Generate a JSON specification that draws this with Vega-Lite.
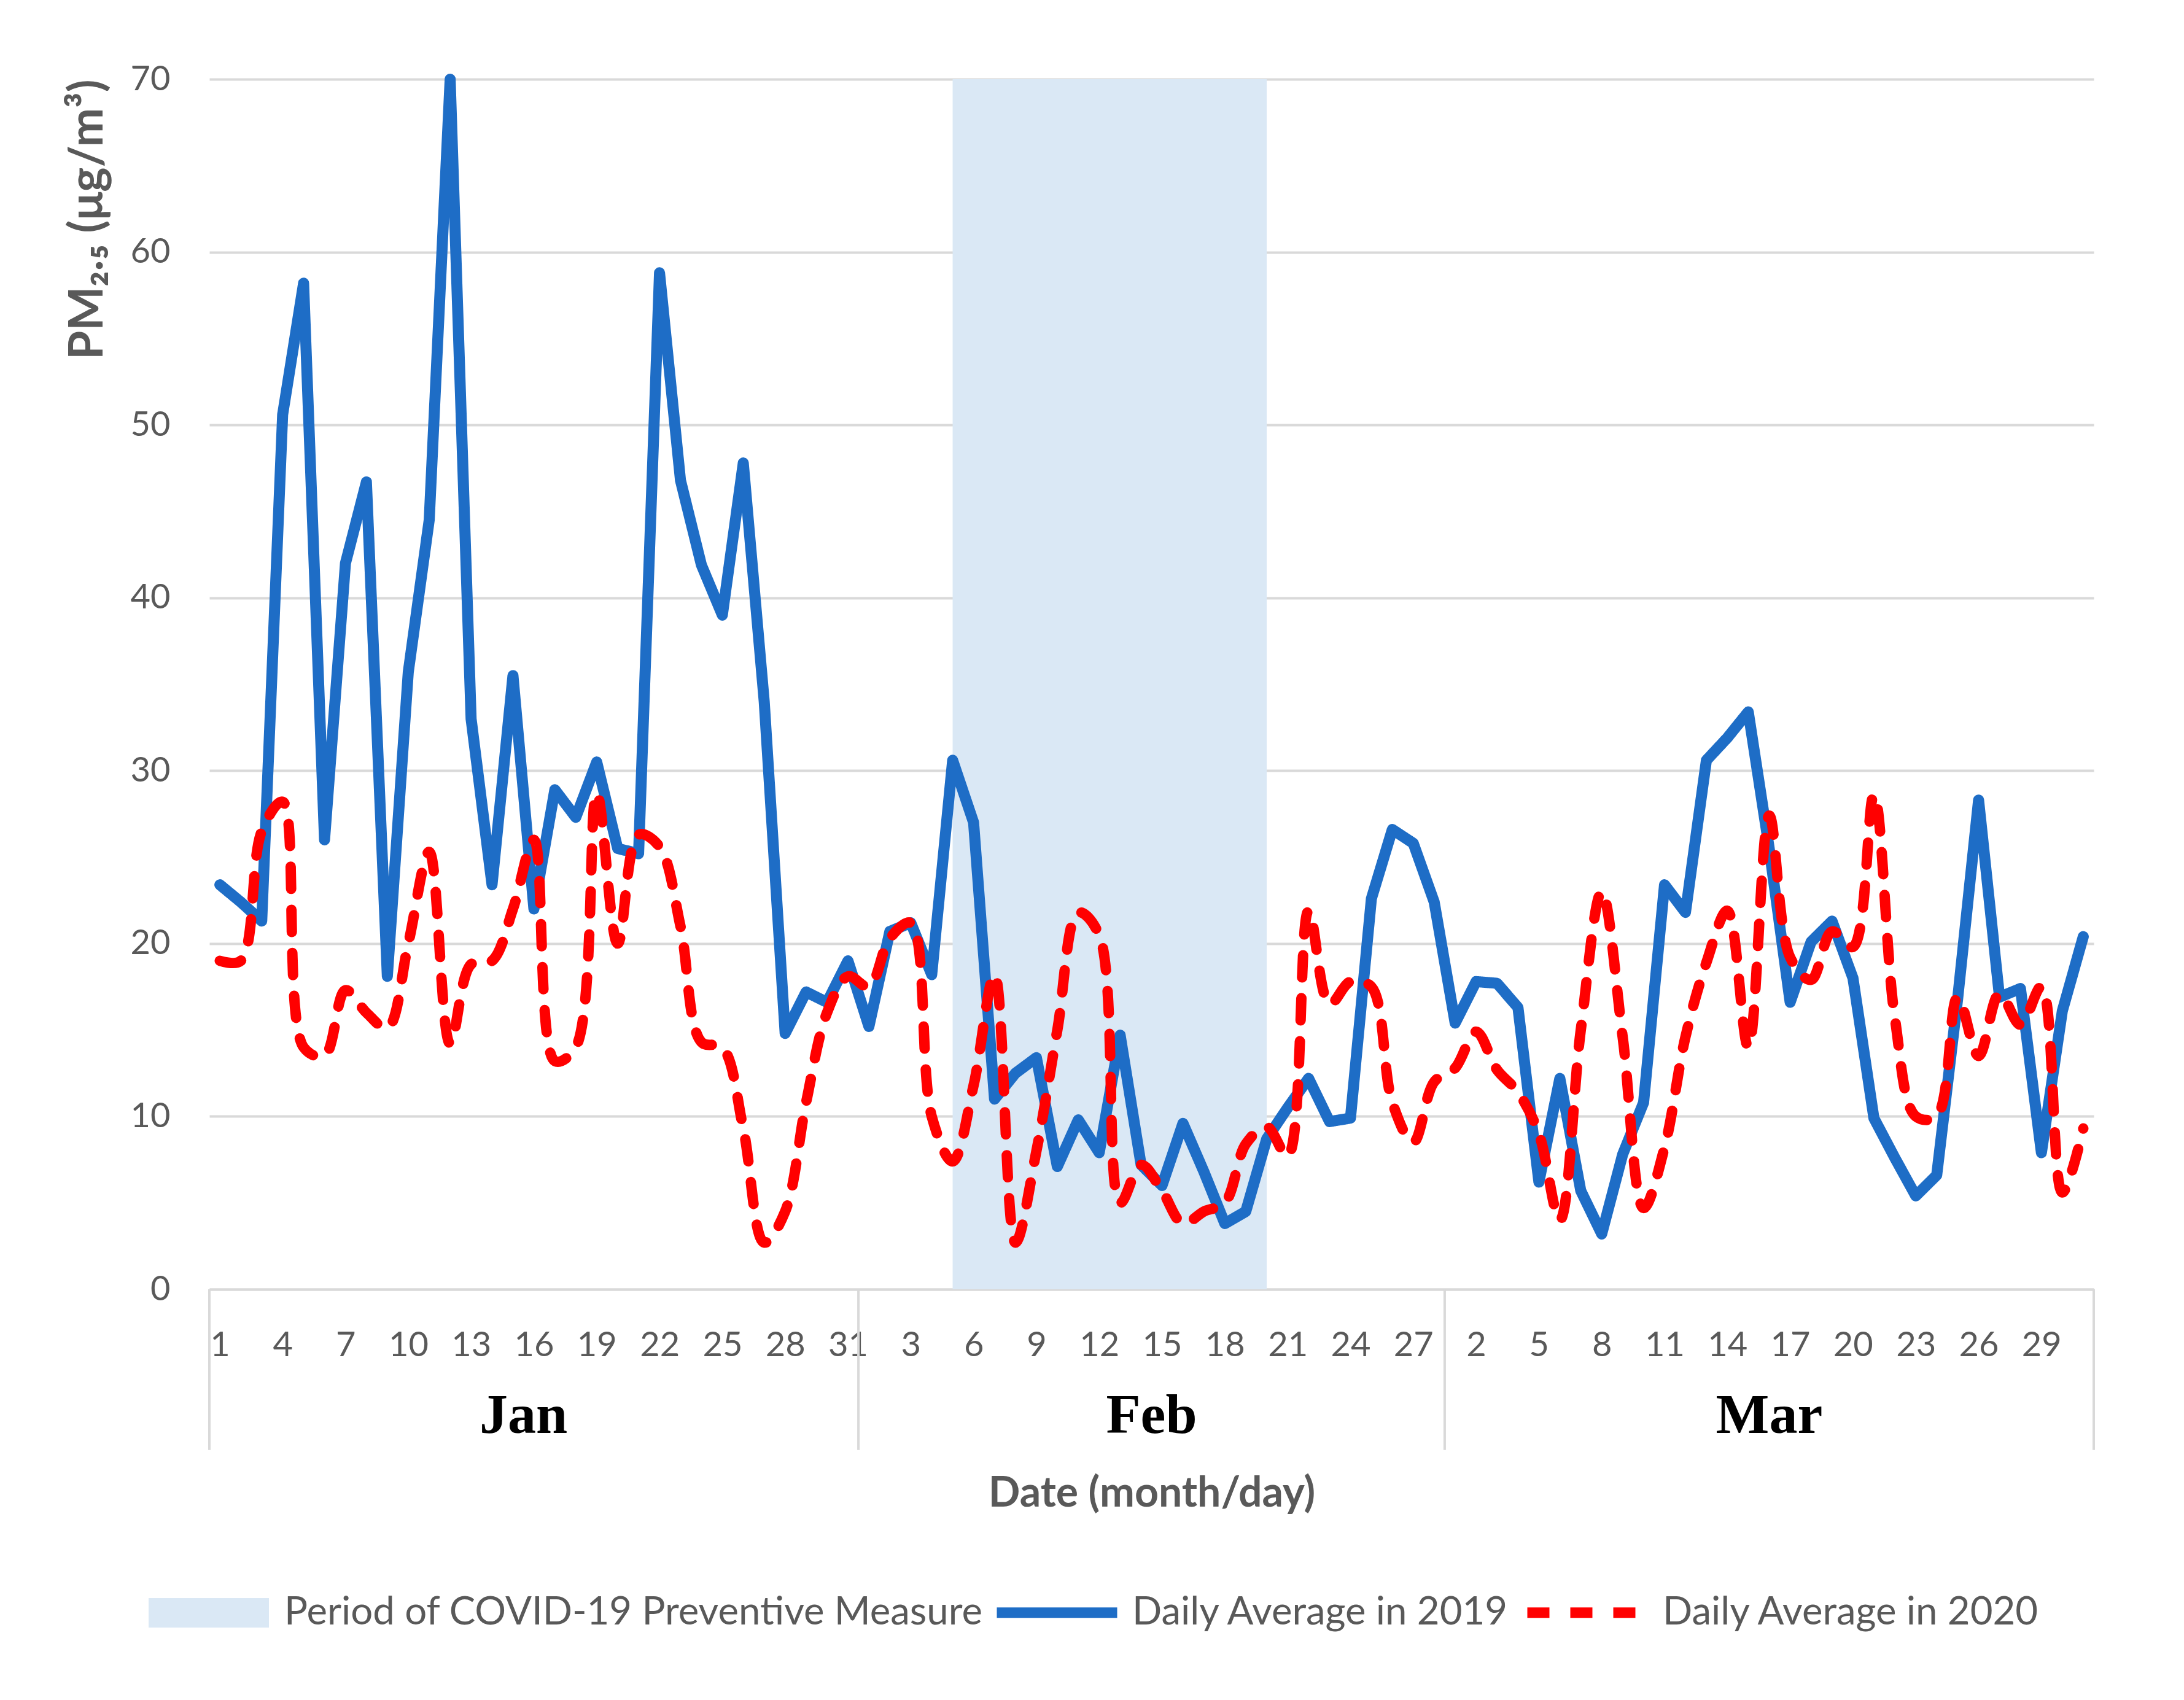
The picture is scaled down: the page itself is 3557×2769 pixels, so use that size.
{
  "$schema": "https://vega.github.io/schema/vega-lite/v6.json",
  "width": 3069,
  "height": 1971,
  "autosize": {"type": "none"},
  "padding": {"left": 341, "top": 129, "right": 147, "bottom": 669},
  "background": "white",
  "datasets": {
    "pm": [
      {"date": "2019-01-01", "y2019": 23.4, "y2020": 19},
      {"date": "2019-01-02", "y2019": 22.4, "y2020": 19},
      {"date": "2019-01-03", "y2019": 21.3, "y2020": 26.5},
      {"date": "2019-01-04", "y2019": 50.6, "y2020": 28.2},
      {"date": "2019-01-05", "y2019": 58.2, "y2020": 14},
      {"date": "2019-01-06", "y2019": 26, "y2020": 13.5},
      {"date": "2019-01-07", "y2019": 42, "y2020": 17.3},
      {"date": "2019-01-08", "y2019": 46.7, "y2020": 16},
      {"date": "2019-01-09", "y2019": 18.1, "y2020": 15.1},
      {"date": "2019-01-10", "y2019": 35.7, "y2020": 20},
      {"date": "2019-01-11", "y2019": 44.5, "y2020": 25.3},
      {"date": "2019-01-12", "y2019": 70, "y2020": 14.2},
      {"date": "2019-01-13", "y2019": 33, "y2020": 18.8},
      {"date": "2019-01-14", "y2019": 23.4, "y2020": 19},
      {"date": "2019-01-15", "y2019": 35.5, "y2020": 22},
      {"date": "2019-01-16", "y2019": 22, "y2020": 26},
      {"date": "2019-01-17", "y2019": 28.9, "y2020": 13.2},
      {"date": "2019-01-18", "y2019": 27.3, "y2020": 14},
      {"date": "2019-01-19", "y2019": 30.5, "y2020": 28.7},
      {"date": "2019-01-20", "y2019": 25.5, "y2020": 20},
      {"date": "2019-01-21", "y2019": 25.2, "y2020": 26.3},
      {"date": "2019-01-22", "y2019": 58.8, "y2020": 25.6},
      {"date": "2019-01-23", "y2019": 46.8, "y2020": 21},
      {"date": "2019-01-24", "y2019": 41.9, "y2020": 14.3},
      {"date": "2019-01-25", "y2019": 39, "y2020": 14},
      {"date": "2019-01-26", "y2019": 47.8, "y2020": 9.3},
      {"date": "2019-01-27", "y2019": 34, "y2020": 2.7},
      {"date": "2019-01-28", "y2019": 14.8, "y2020": 4.5},
      {"date": "2019-01-29", "y2019": 17.2, "y2020": 10.8},
      {"date": "2019-01-30", "y2019": 16.6, "y2020": 16},
      {"date": "2019-01-31", "y2019": 19, "y2020": 18.1},
      {"date": "2019-02-01", "y2019": 15.2, "y2020": 17.5},
      {"date": "2019-02-02", "y2019": 20.7, "y2020": 20.3},
      {"date": "2019-02-03", "y2019": 21.2, "y2020": 21.2},
      {"date": "2019-02-04", "y2019": 18.2, "y2020": 10},
      {"date": "2019-02-05", "y2019": 30.6, "y2020": 7.4},
      {"date": "2019-02-06", "y2019": 27, "y2020": 11.8},
      {"date": "2019-02-07", "y2019": 11, "y2020": 18.2},
      {"date": "2019-02-08", "y2019": 12.5, "y2020": 2.7},
      {"date": "2019-02-09", "y2019": 13.4, "y2020": 8},
      {"date": "2019-02-10", "y2019": 7.1, "y2020": 15},
      {"date": "2019-02-11", "y2019": 9.8, "y2020": 21.8},
      {"date": "2019-02-12", "y2019": 7.9, "y2020": 20.5},
      {"date": "2019-02-13", "y2019": 14.7, "y2020": 5},
      {"date": "2019-02-14", "y2019": 7.2, "y2020": 7.2},
      {"date": "2019-02-15", "y2019": 6, "y2020": 5.7},
      {"date": "2019-02-16", "y2019": 9.6, "y2020": 3.8},
      {"date": "2019-02-17", "y2019": 6.8, "y2020": 4.5},
      {"date": "2019-02-18", "y2019": 3.8, "y2020": 5},
      {"date": "2019-02-19", "y2019": 4.5, "y2020": 8.4},
      {"date": "2019-02-20", "y2019": 8.7, "y2020": 9.4},
      {"date": "2019-02-21", "y2019": 10.5, "y2020": 7.7},
      {"date": "2019-02-22", "y2019": 12.2, "y2020": 21.9},
      {"date": "2019-02-23", "y2019": 9.7, "y2020": 16.5},
      {"date": "2019-02-24", "y2019": 9.9, "y2020": 17.8},
      {"date": "2019-02-25", "y2019": 22.6, "y2020": 17.5},
      {"date": "2019-02-26", "y2019": 26.6, "y2020": 10.8},
      {"date": "2019-02-27", "y2019": 25.8, "y2020": 8.5},
      {"date": "2019-02-28", "y2019": 22.4, "y2020": 12},
      {"date": "2019-03-01", "y2019": 15.4, "y2020": 12.8},
      {"date": "2019-03-02", "y2019": 17.8, "y2020": 14.9},
      {"date": "2019-03-03", "y2019": 17.7, "y2020": 12.7},
      {"date": "2019-03-04", "y2019": 16.3, "y2020": 11.4},
      {"date": "2019-03-05", "y2019": 6.2, "y2020": 9},
      {"date": "2019-03-06", "y2019": 12.2, "y2020": 4},
      {"date": "2019-03-07", "y2019": 5.7, "y2020": 15},
      {"date": "2019-03-08", "y2019": 3.2, "y2020": 23},
      {"date": "2019-03-09", "y2019": 7.8, "y2020": 14.6},
      {"date": "2019-03-10", "y2019": 10.8, "y2020": 4.7},
      {"date": "2019-03-11", "y2019": 23.4, "y2020": 8.2},
      {"date": "2019-03-12", "y2019": 21.8, "y2020": 14.6},
      {"date": "2019-03-13", "y2019": 30.6, "y2020": 18.9},
      {"date": "2019-03-14", "y2019": 31.9, "y2020": 21.9},
      {"date": "2019-03-15", "y2019": 33.4, "y2020": 14},
      {"date": "2019-03-16", "y2019": 25.5, "y2020": 27.4},
      {"date": "2019-03-17", "y2019": 16.6, "y2020": 19.2},
      {"date": "2019-03-18", "y2019": 20.1, "y2020": 17.9},
      {"date": "2019-03-19", "y2019": 21.3, "y2020": 20.7},
      {"date": "2019-03-20", "y2019": 18, "y2020": 19.8},
      {"date": "2019-03-21", "y2019": 9.9, "y2020": 28.6},
      {"date": "2019-03-22", "y2019": 7.6, "y2020": 15.7},
      {"date": "2019-03-23", "y2019": 5.4, "y2020": 10},
      {"date": "2019-03-24", "y2019": 6.6, "y2020": 10},
      {"date": "2019-03-25", "y2019": 16.8, "y2020": 16.9},
      {"date": "2019-03-26", "y2019": 28.3, "y2020": 13.5},
      {"date": "2019-03-27", "y2019": 16.9, "y2020": 17.1},
      {"date": "2019-03-28", "y2019": 17.4, "y2020": 15.3},
      {"date": "2019-03-29", "y2019": 7.9, "y2020": 17.5},
      {"date": "2019-03-30", "y2019": 16.1, "y2020": 5.6},
      {"date": "2019-03-31", "y2019": 20.4, "y2020": 9.3}
    ],
    "period": [
      {"start": "2019-02-05", "end": "2019-02-20"}
    ],
    "months": [
      {"month": "Jan", "mid": "2019-01-15T12:00:00Z"},
      {"month": "Feb", "mid": "2019-02-14T12:00:00Z"},
      {"month": "Mar", "mid": "2019-03-16T00:00:00Z"}
    ],
    "bounds": [
      {"at": "2018-12-31T12:00:00Z"},
      {"at": "2019-01-31T12:00:00Z"},
      {"at": "2019-02-28T12:00:00Z"},
      {"at": "2019-03-31T12:00:00Z"}
    ]
  },
  "layer": [
    {
      "data": {"name": "period"},
      "mark": {"type": "rect", "opacity": 1},
      "encoding": {
        "x": {"field": "start", "type": "temporal"},
        "x2": {"field": "end"},
        "y": {"datum": 0, "type": "quantitative"},
        "y2": {"datum": 70},
        "fill": {
          "datum": "Period of COVID-19 Preventive Measure",
          "type": "nominal",
          "scale": {
            "domain": ["Period of COVID-19 Preventive Measure"],
            "range": ["#DAE8F5"]
          },
          "legend": {
            "orient": "none",
            "legendX": -99,
            "legendY": 2400,
            "title": null,
            "symbolType": "M-1,-0.245L1,-0.245L1,0.245L-1,0.245Z",
            "symbolSize": 38416,
            "symbolStrokeWidth": 0,
            "symbolOpacity": 1,
            "labelFont": "Lato",
            "labelFontSize": 63.5,
            "labelColor": "#595959",
            "labelOffset": 25,
            "labelLimit": 2000
          }
        }
      }
    },
    {
      "data": {"name": "pm"},
      "mark": {"type": "line", "strokeWidth": 18, "strokeJoin": "round", "strokeCap": "round"},
      "encoding": {
        "x": {
          "field": "date",
          "type": "temporal",
          "scale": {
            "type": "utc",
            "domain": [
              {"year": 2018, "month": 12, "date": 31, "hours": 12, "utc": true},
              {"year": 2019, "month": 3, "date": 31, "hours": 12, "utc": true}
            ]
          },
          "axis": {
            "title": "Date (month/day)",
            "tickCount": {"interval": "day", "step": 1},
            "labelExpr": "round((datum.value - utc(2019, 0, 1)) / 86400000) % 3 == 0 ? utcFormat(datum.value, '%-d') : ''",
            "labelOverlap": false,
            "labelFlush": false,
            "ticks": false,
            "tickSize": 0,
            "grid": false,
            "domain": true,
            "domainColor": "#D9D9D9",
            "domainWidth": 4,
            "labelFont": "Lato",
            "labelFontSize": 56,
            "labelColor": "#595959",
            "labelPadding": 64,
            "titleFont": "Lato",
            "titleFontSize": 68,
            "titleFontWeight": "bold",
            "titleColor": "#595959",
            "titlePadding": 180
          }
        },
        "y": {
          "field": "y2019",
          "type": "quantitative",
          "scale": {"domain": [0, 70], "nice": false},
          "axis": {
            "title": "PM₂.₅ (μg/m³)",
            "tickCount": 7,
            "domain": false,
            "ticks": false,
            "tickSize": 0,
            "grid": true,
            "gridColor": "#D9D9D9",
            "gridWidth": 4,
            "labelFont": "Lato",
            "labelFontSize": 56,
            "labelColor": "#595959",
            "labelPadding": 64,
            "titleFont": "Lato",
            "titleFontSize": 76,
            "titleFontWeight": "bold",
            "titleColor": "#595959",
            "titleAnchor": "end",
            "titlePadding": 30
          }
        },
        "stroke": {
          "datum": "Daily Average in 2019",
          "type": "nominal",
          "scale": {
            "domain": ["Daily Average in 2019", "Daily Average in 2020"],
            "range": ["#1E6DC6", "#FF0000"]
          },
          "legend": {
            "orient": "none",
            "legendX": 1274,
            "legendY": 2391,
            "direction": "horizontal",
            "title": null,
            "symbolType": "stroke",
            "symbolSize": 38416,
            "symbolStrokeWidth": 17,
            "labelFont": "Lato",
            "labelFontSize": 63.5,
            "labelColor": "#595959",
            "labelOffset": 16,
            "labelLimit": 2000,
            "columnPadding": -6
          }
        },
        "strokeDash": {
          "datum": "Daily Average in 2019",
          "type": "nominal",
          "scale": {
            "domain": ["Daily Average in 2019", "Daily Average in 2020"],
            "range": [[1, 0], [36, 34]]
          },
          "legend": {
            "orient": "none",
            "legendX": 1274,
            "legendY": 2391,
            "direction": "horizontal",
            "title": null,
            "symbolType": "stroke",
            "symbolSize": 38416,
            "symbolStrokeWidth": 17,
            "labelFont": "Lato",
            "labelFontSize": 63.5,
            "labelColor": "#595959",
            "labelOffset": 16,
            "labelLimit": 2000,
            "columnPadding": -6
          }
        }
      }
    },
    {
      "data": {"name": "pm"},
      "mark": {
        "type": "line",
        "strokeWidth": 17,
        "strokeCap": "round",
        "strokeJoin": "round",
        "interpolate": "catmull-rom"
      },
      "encoding": {
        "x": {"field": "date", "type": "temporal"},
        "y": {"field": "y2020", "type": "quantitative"},
        "stroke": {"datum": "Daily Average in 2020", "type": "nominal"},
        "strokeDash": {"datum": "Daily Average in 2020", "type": "nominal"}
      }
    },
    {
      "data": {"name": "bounds"},
      "mark": {"type": "rule", "color": "#D9D9D9", "strokeWidth": 4},
      "encoding": {
        "x": {"field": "at", "type": "temporal"},
        "y": {"datum": 0, "type": "quantitative"},
        "y2": {"datum": -9.3}
      }
    },
    {
      "data": {"name": "months"},
      "mark": {
        "type": "text",
        "font": "Liberation Serif",
        "fontWeight": "bold",
        "fontSize": 92,
        "color": "black",
        "align": "center",
        "baseline": "middle"
      },
      "encoding": {
        "x": {"field": "mid", "type": "temporal"},
        "y": {"datum": -7.3, "type": "quantitative"},
        "text": {"field": "month"}
      }
    }
  ],
  "config": {
    "view": {"stroke": null}
  }
}
